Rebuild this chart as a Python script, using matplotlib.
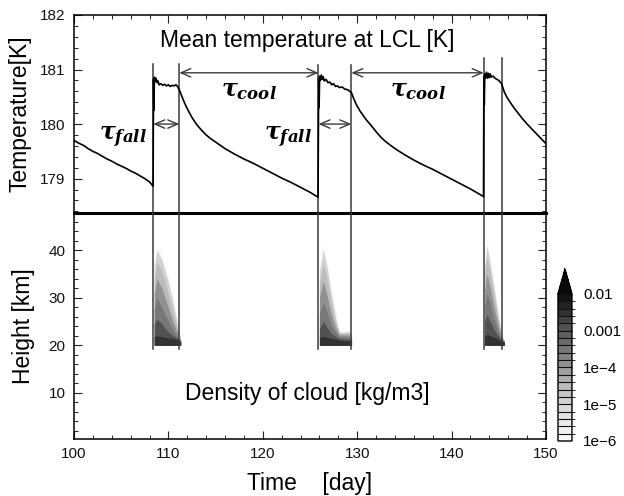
import numpy as np
import matplotlib
matplotlib.use("Agg")
import matplotlib.pyplot as plt
from matplotlib.colors import ListedColormap, BoundaryNorm
from matplotlib.cm import ScalarMappable

plt.rcParams['font.family'] = ['Liberation Sans', 'DejaVu Sans']
plt.rcParams['mathtext.fontset'] = 'custom'
plt.rcParams['mathtext.it'] = 'DejaVu Serif:italic:bold'
plt.rcParams['mathtext.rm'] = 'DejaVu Serif:bold'

# ---- mean temperature at the lifting condensation level ----
time_day = [
    100.0, 100.5, 101.0, 101.5, 102.0, 102.5, 103.0, 103.5, 104.0, 104.5,
    105.0, 105.5, 106.0, 106.5, 107.0, 107.5, 108.0, 108.38,
    108.42, 108.46, 108.52, 108.6, 108.7, 108.8, 108.9, 109.0, 109.2, 109.4,
    109.6, 109.8, 110.0, 110.2, 110.4, 110.6, 110.8, 111.0, 111.15,
    111.4, 111.7, 112.0, 112.5, 113.0, 113.5, 114.0, 114.5, 115.0, 116.0,
    117.0, 118.0, 119.0, 120.0, 121.0, 122.0, 123.0, 124.0, 125.0, 125.85,
    125.92, 125.96, 126.02, 126.1, 126.2, 126.3, 126.4, 126.5, 126.7, 126.9,
    127.1, 127.3, 127.5, 127.7, 127.9, 128.1, 128.4, 128.7, 129.0, 129.2, 129.38,
    129.6, 129.9, 130.3, 130.7, 131.0, 131.5, 132.0, 132.5, 133.0, 134.0,
    135.0, 136.0, 137.0, 138.0, 139.0, 140.0, 141.0, 142.0, 143.0, 143.38,
    143.42, 143.46, 143.52, 143.6, 143.7, 143.8, 143.9, 144.0, 144.1, 144.2,
    144.4, 144.6, 144.8, 145.0, 145.3,
    145.6, 145.9, 146.2, 146.6, 147.0, 147.5, 148.0, 148.5, 149.0, 149.5, 150.0,
]
temp_K = [
    179.70, 179.65, 179.61, 179.55, 179.50, 179.46, 179.41, 179.36, 179.32, 179.27,
    179.23, 179.19, 179.14, 179.10, 179.05, 179.00, 178.94, 178.86,
    180.82, 180.25, 180.86, 180.78, 180.84, 180.76, 180.79, 180.72, 180.74, 180.71,
    180.73, 180.70, 180.72, 180.69, 180.71, 180.70, 180.72, 180.68, 180.63,
    180.52, 180.39, 180.28, 180.12, 179.99, 179.89, 179.80, 179.73, 179.67, 179.55,
    179.45, 179.36, 179.28, 179.19, 179.10, 179.01, 178.93, 178.84, 178.75, 178.66,
    180.84, 180.30, 180.88, 180.80, 180.90, 180.82, 180.87, 180.79, 180.82, 180.76,
    180.77, 180.72, 180.74, 180.69, 180.70, 180.67, 180.68, 180.64, 180.63, 180.60, 180.58,
    180.48, 180.36, 180.24, 180.14, 180.07, 179.97, 179.86, 179.76, 179.68, 179.55,
    179.44, 179.34, 179.25, 179.17, 179.08, 178.99, 178.90, 178.81, 178.71, 178.67,
    180.88, 180.35, 180.92, 180.85, 180.95, 180.84, 180.93, 180.85, 180.92, 180.86,
    180.88, 180.84, 180.82, 180.80, 180.74,
    180.58, 180.48, 180.40, 180.30, 180.21, 180.10, 180.00, 179.91, 179.82, 179.73, 179.64,
]

# ---- cloud events: start / end of the fall period, top of marker lines ----
fall_start = [108.4, 125.9, 143.4]
fall_end = [111.15, 129.38, 145.3]
marker_top_K = [181.10, 181.08, 181.22]
marker_bottom_km = 19.3

# ---- cloud density (kg/m3): top height of each density contour ----
cloud_levels = [1e-6, 1e-5, 3e-5, 1e-4, 3e-4, 1e-3, 3e-3]
cloud_base_km = 20.0

cloud1_day = [108.5, 108.8, 109.3, 109.9, 110.5, 111.0, 111.3]
cloud1_top = [
    [38.0, 41.5, 39.5, 35.5, 30.5, 25.0, 21.5],
    [36.5, 40.0, 38.0, 34.0, 29.0, 24.0, 21.3],
    [34.0, 37.5, 35.5, 31.5, 27.0, 23.0, 21.1],
    [31.0, 34.0, 32.0, 28.5, 25.0, 22.3, 21.0],
    [27.5, 30.0, 28.0, 25.5, 23.2, 21.7, 20.9],
    [24.5, 25.5, 24.5, 23.0, 22.0, 21.4, 20.8],
    [21.8, 22.0, 21.8, 21.6, 21.4, 21.2, 20.7],
]

cloud2_day = [126.0, 126.4, 126.8, 127.2, 127.7, 128.1, 128.5, 129.0, 129.4]
cloud2_top = [
    [37.0, 41.7, 38.0, 33.0, 27.5, 23.2, 23.0, 23.2, 22.8],
    [35.5, 40.0, 36.5, 31.5, 26.0, 22.8, 22.7, 22.9, 22.5],
    [33.0, 37.0, 34.0, 29.5, 24.8, 22.5, 22.5, 22.6, 22.2],
    [30.0, 33.5, 30.5, 27.0, 23.8, 22.2, 22.2, 22.2, 21.8],
    [26.5, 29.0, 27.0, 24.5, 22.8, 21.8, 21.8, 21.8, 21.4],
    [23.5, 25.0, 23.8, 22.6, 21.9, 21.4, 21.3, 21.3, 21.1],
    [21.6, 21.9, 21.7, 21.5, 21.3, 21.1, 21.0, 21.0, 20.8],
]

cloud3_day = [143.5, 143.75, 144.1, 144.5, 144.9, 145.3, 145.6]
cloud3_top = [
    [38.0, 42.5, 38.5, 33.5, 28.0, 22.5, 21.0],
    [36.5, 41.0, 37.0, 32.0, 27.0, 22.2, 20.9],
    [34.5, 38.5, 35.0, 30.5, 25.8, 21.9, 20.8],
    [31.5, 35.0, 32.0, 28.0, 24.5, 21.6, 20.8],
    [28.0, 31.0, 28.5, 25.5, 23.0, 21.3, 20.7],
    [25.0, 26.5, 25.0, 23.3, 22.0, 21.1, 20.7],
    [22.0, 22.3, 22.0, 21.7, 21.3, 20.9, 20.6],
]

# ---- colour scale ----
cbar_bounds = 10.0 ** np.linspace(-6, -2, 21)
cbar_ticks = [1e-6, 1e-5, 1e-4, 1e-3, 1e-2]
cbar_ticklabels = ['1e\u22126', '1e\u22125', '1e\u22124', '0.001', '0.01']

greys = ListedColormap(plt.cm.Greys(np.linspace(0.06, 0.93, 20)))
greys.set_over('#0a0a0a')
norm = BoundaryNorm(cbar_bounds, greys.N)

fig = plt.figure(figsize=(6.24, 4.96), dpi=100)
ax_t = fig.add_axes([0.1186, 0.5706, 0.7564, 0.3992])
ax_b = fig.add_axes([0.1186, 0.1149, 0.7564, 0.4557])
ax_b.patch.set_visible(False)
cax = fig.add_axes([0.8942, 0.1109, 0.0224, 0.3468])

frame_lw = 1.1
tick_kw = dict(direction='in', length=5.8, width=0.8, colors='#222222',
               labelsize=11, labelcolor='#111111')
minor_kw = dict(direction='in', length=3.0, width=0.7, colors='#222222')

# ---- top panel ----
ax_t.plot(time_day, temp_K, color='black', lw=1.2, zorder=3)
ax_t.set_xlim(100, 150)
ax_t.set_ylim(178.37, 182.0)
ax_t.set_yticks([179, 180, 181, 182])
ax_t.set_yticks(np.arange(178.4, 182.0, 0.2), minor=True)
ax_t.set_xticks(np.arange(100, 151, 10))
ax_t.set_xticks(np.arange(100, 151, 2), minor=True)
ax_t.tick_params(axis='both', which='major', top=True, right=True, bottom=False,
                 labelbottom=False, pad=6, **tick_kw)
ax_t.tick_params(axis='both', which='minor', top=True, right=True, bottom=False,
                 **minor_kw)
for side in ['top', 'left', 'right']:
    ax_t.spines[side].set_linewidth(frame_lw)
ax_t.spines['bottom'].set_linewidth(2.2)
ax_t.spines['bottom'].set_zorder(5)
ax_t.set_ylabel('Temperature[K]', fontsize=16.5, labelpad=6)
ax_t.text(124.7, 181.54, 'Mean temperature at LCL [K]', fontsize=16.5,
          ha='center', va='center')

line_col = '#3a3a3a'
for t0, t1, ytop in zip(fall_start, fall_end, marker_top_K):
    for t in (t0, t1):
        ax_t.plot([t, t], [ytop, 178.37], color=line_col, lw=1.1, zorder=2,
                  clip_on=False)
        ax_b.plot([t, t], [marker_bottom_km, 47.8], color=line_col, lw=1.1,
                  zorder=4, clip_on=False)

arrow_kw = dict(arrowstyle='<->,head_length=0.7,head_width=0.3',
                color=line_col, lw=1.0, shrinkA=0, shrinkB=0)
# cooling periods: end of one fall to start of next
for t1, t0 in zip(fall_end[:-1], fall_start[1:]):
    ax_t.annotate('', xy=(t0, 180.94), xytext=(t1, 180.94), arrowprops=arrow_kw)
    ax_t.text((t1 + t0) / 2, 180.60, r'$\tau_{cool}$', fontsize=17,
              ha='center', va='center')
# fall periods
for t0, t1 in zip(fall_start[:-1], fall_end[:-1]):
    ax_t.annotate('', xy=(t1, 180.0), xytext=(t0, 180.0), arrowprops=arrow_kw)
    ax_t.text(t0 - 3.2, 179.76, r'$\tau_{fall}$', fontsize=17,
              ha='center', va='center')

# ---- bottom panel ----
for days, tops in [(cloud1_day, cloud1_top), (cloud2_day, cloud2_top),
                   (cloud3_day, cloud3_top)]:
    for level, top in zip(cloud_levels, tops):
        ax_b.fill_between(days, cloud_base_km, top, color=greys(norm(level)),
                          lw=0, zorder=2)

ax_b.set_xlim(100, 150)
ax_b.set_ylim(0.3, 47.8)
ax_b.set_xticks(np.arange(100, 151, 10))
ax_b.set_xticks(np.arange(100, 151, 2), minor=True)
ax_b.set_yticks([10, 20, 30, 40])
ax_b.set_yticks(np.arange(2, 48, 2), minor=True)
ax_b.tick_params(axis='both', which='major', right=True, top=False, pad=6, **tick_kw)
ax_b.tick_params(axis='both', which='minor', right=True, top=False, **minor_kw)
for side in ['bottom', 'left', 'right']:
    ax_b.spines[side].set_linewidth(frame_lw)
ax_b.spines['top'].set_visible(False)
ax_b.set_ylabel('Height [km]', fontsize=16.5, labelpad=10)
ax_b.set_xlabel('Time    [day]', fontsize=16.5, labelpad=8)
ax_b.text(124.7, 9.8, 'Density of cloud [kg/m3]', fontsize=16.5,
          ha='center', va='center')

# ---- colour bar ----
cb = fig.colorbar(ScalarMappable(norm=norm, cmap=greys), cax=cax, extend='max',
                  extendfrac=0.17, drawedges=True, ticks=cbar_ticks)
cb.ax.set_yticklabels(cbar_ticklabels)
cb.ax.tick_params(length=0, labelsize=11, pad=8)
cb.outline.set_linewidth(1.0)
cb.dividers.set_color('#111111')
cb.dividers.set_linewidth(0.8)

fig.savefig('out.png', dpi=100)
